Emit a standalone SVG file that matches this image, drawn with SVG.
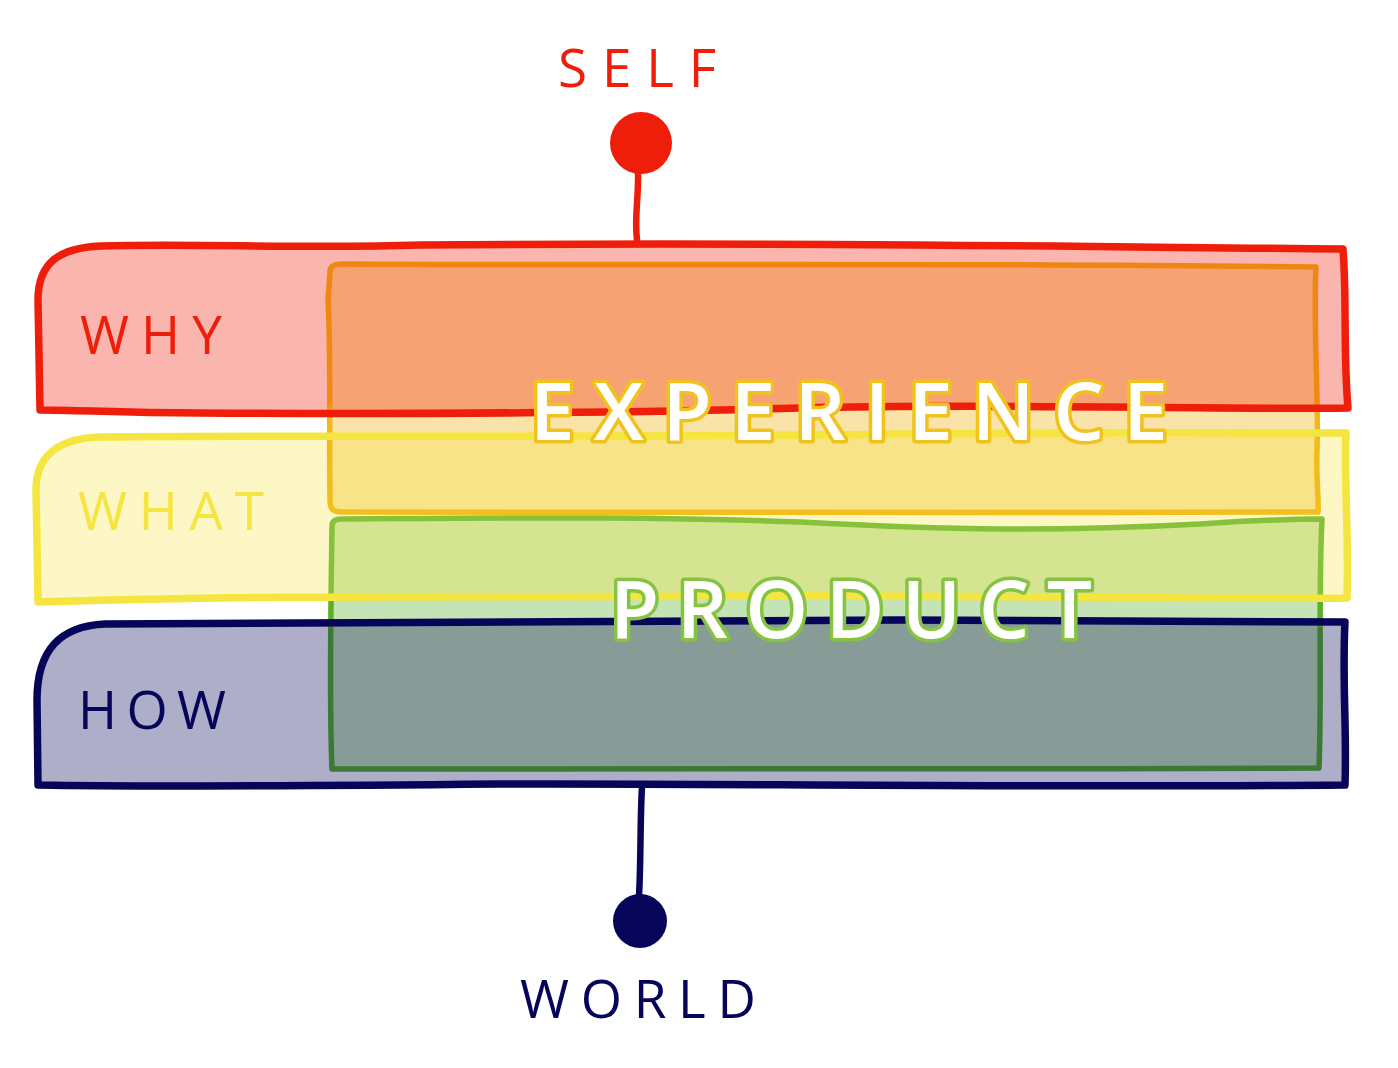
<svg xmlns="http://www.w3.org/2000/svg" width="1398" height="1068" viewBox="0 0 1398 1068">
<defs>
<style>
.lbl{font-family:"Open Sans","Liberation Sans",sans-serif;font-size:53px;font-weight:400}
.big{font-family:"Open Sans","Liberation Sans",sans-serif;font-size:80px;font-weight:600;fill:#ffffff;paint-order:stroke;stroke-width:7;stroke-linejoin:round}
.band{stroke-width:7.5;stroke-linejoin:round;stroke-linecap:round}
.box{fill:none;stroke-width:5.5;stroke-linejoin:round}
</style>
<linearGradient id="gOrange" gradientUnits="userSpaceOnUse" x1="0" y1="260" x2="0" y2="520">
<stop offset="0" stop-color="#ef8612"/>
<stop offset="0.55" stop-color="#ef8a12"/>
<stop offset="0.6" stop-color="#f2b81c"/>
<stop offset="1" stop-color="#f2c01c"/>
</linearGradient>
<linearGradient id="gGreen" gradientUnits="userSpaceOnUse" x1="0" y1="515" x2="0" y2="775">
<stop offset="0" stop-color="#86c23a"/>
<stop offset="0.31" stop-color="#84c13a"/>
<stop offset="0.34" stop-color="#5cae24"/>
<stop offset="0.41" stop-color="#5cae24"/>
<stop offset="0.44" stop-color="#3b7a32"/>
<stop offset="1" stop-color="#3b7a32"/>
</linearGradient>
</defs>

<!-- box fills (under the bands) -->
<g id="box-fills">
<path d="M330,272 C330,266 334,264 342,264 C600,266 900,262 1316,267 C1313,330 1319,400 1317,450 C1316,480 1319,500 1318,512 C1000,514 700,510 342,512 C332,512 330,508 330,500 C329,430 331,350 328,300 Z" fill="#fae3a8"/>
<path d="M332,526 C332,521 335,519 342,519 C500,518 650,516 800,522 C950,530 1050,532 1200,524 C1260,520 1300,519 1322,519 C1318,600 1322,690 1319,768 C1000,770 700,767 332,769 C329,700 331,600 332,526 Z" fill="#c5e4b5"/>
</g>

<!-- band fills -->
<g id="band-fills">
<path d="M40,410 L38,300 C38,262 60,248 100,246 C200,243 300,249 420,245 C800,242 1100,247 1343,249 C1347,300 1343,350 1348,408 C1200,410 1000,403 800,408 C600,414 400,414 200,413 C120,413 80,410 40,410 Z" fill="#f01e0a" fill-opacity="0.33"/>
<path d="M38,600 L36,490 C36,455 60,438 100,437 C300,435 600,438 900,434 C1100,432 1250,433 1346,433 C1344,480 1349,540 1347,598 C1200,600 900,594 700,596 C500,598 300,594 38,602 Z" fill="#f5e542" fill-opacity="0.31"/>
<path d="M38,785 L37,700 C37,650 60,626 105,624 C300,622 600,624 900,620 C1100,621 1250,622 1345,622 C1342,680 1347,730 1345,785 C1000,788 700,783 500,784 C300,786 150,787 38,785 Z" fill="#0a0a5a" fill-opacity="0.33"/>
</g>

<!-- box outlines -->
<g id="experience">
<path class="box" stroke="url(#gOrange)" d="M330,272 C330,266 334,264 342,264 C600,266 900,262 1316,267 C1313,330 1319,400 1317,450 C1316,480 1319,500 1318,512 C1000,514 700,510 342,512 C332,512 330,508 330,500 C329,430 331,350 328,300 Z"/>
</g>
<g id="product">
<path class="box" stroke="url(#gGreen)" d="M332,526 C332,521 335,519 342,519 C500,518 650,516 800,522 C950,530 1050,532 1200,524 C1260,520 1300,519 1322,519 C1318,600 1322,690 1319,768 C1000,770 700,767 332,769 C329,700 331,600 332,526 Z"/>
</g>

<!-- band outlines -->
<g id="why">
<path class="band" fill="none" stroke="#ef1e0a" d="M40,410 L38,300 C38,262 60,248 100,246 C200,243 300,249 420,245 C800,242 1100,247 1343,249 C1347,300 1343,350 1348,408 C1200,410 1000,403 800,408 C600,414 400,414 200,413 C120,413 80,410 40,410 Z"/>
<text class="lbl" x="80" y="354" fill="#ef1e0a" textLength="142" lengthAdjust="spacing">WHY</text>
</g>
<g id="what">
<path class="band" fill="none" stroke="#f5e540" d="M38,600 L36,490 C36,455 60,438 100,437 C300,435 600,438 900,434 C1100,432 1250,433 1346,433 C1344,480 1349,540 1347,598 C1200,600 900,594 700,596 C500,598 300,594 38,602 Z"/>
<text class="lbl" x="78" y="530" fill="#f5e540" textLength="186" lengthAdjust="spacing">WHAT</text>
</g>
<g id="how">
<path class="band" fill="none" stroke="#07055a" d="M38,785 L37,700 C37,650 60,626 105,624 C300,622 600,624 900,620 C1100,621 1250,622 1345,622 C1342,680 1347,730 1345,785 C1000,788 700,783 500,784 C300,786 150,787 38,785 Z"/>
<text class="lbl" x="78" y="729" fill="#07055a" textLength="148" lengthAdjust="spacing">HOW</text>
</g>

<!-- connectors -->
<g id="connectors" fill="none" stroke-width="6.5" stroke-linecap="round">
<path stroke="#ef1e0a" d="M637,240 C634,215 639,200 638,168"/>
<path stroke="#07055a" d="M642,787 C640,820 641,860 639,896"/>
</g>

<g id="self">
<circle cx="641" cy="143" r="31" fill="#ef1e0a"/>
<text class="lbl" x="558" y="87" fill="#ef1e0a" textLength="158" lengthAdjust="spacing">SELF</text>
</g>
<g id="world">
<circle cx="640" cy="921" r="27" fill="#07055a"/>
<text class="lbl" x="520" y="1018" fill="#07055a" textLength="236" lengthAdjust="spacing">WORLD</text>
</g>

<g id="labels">
<text class="big" x="530" y="440" stroke="#f2c21c" textLength="638" lengthAdjust="spacing">EXPERIENCE</text>
<text class="big" x="610" y="638" stroke="#86c340" textLength="482" lengthAdjust="spacing">PRODUCT</text>
</g>
</svg>
